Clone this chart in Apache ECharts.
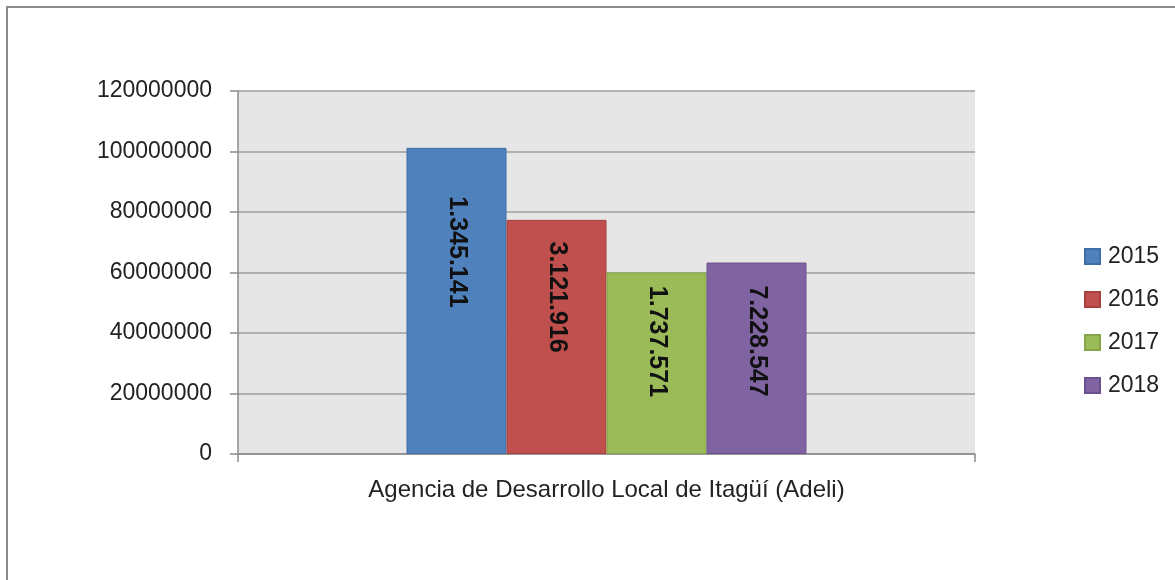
<!DOCTYPE html>
<html>
<head>
<meta charset="utf-8">
<script src="https://cdn.jsdelivr.net/npm/echarts@6/dist/echarts.min.js"></script>
<style>
  html, body { margin: 0; padding: 0; background: #fff; }
  #chart { width: 1175px; height: 580px; }
</style>
</head>
<body>
<div id="chart"></div>
<script>
// data
const categories = ['Agencia de Desarrollo Local de Itagüí (Adeli)']
const years = ['2015', '2016', '2017', '2018']
const values = [101200000, 77400000, 60000000, 63300000]
const labels = ['1.345.141', '3.121.916', '1.737.571', '7.228.547']
const yTicks = { min: 0, max: 120000000, interval: 20000000 }

const colors = ['#4F81BD', '#C0504D', '#9BBB59', '#8064A2']
const borders = ['#3F6FA8', '#A8403D', '#86A648', '#6A5290']
const labelY = ['34%', '33%', '38%', '41%']

const chart = echarts.init(document.getElementById('chart'))
const font = 'Liberation Sans'

chart.setOption({
  animation: false,
  textStyle: { fontFamily: font },
  graphic: [{
    type: 'rect', silent: true, z: -10,
    shape: { x: 7, y: 7, width: 1180, height: 600 },
    style: { fill: 'none', stroke: '#8C8C8C', lineWidth: 2 }
  }],
  legend: {
    orient: 'vertical', left: 1079, top: 240,
    itemWidth: 15, itemHeight: 15, itemGap: 20,
    icon: 'rect',
    textStyle: { color: '#222', fontSize: 23, fontFamily: font, lineHeight: 23, padding: [0, 0, 0, 3] },
    data: years
  },
  grid: { left: 238, right: 200, top: 91, bottom: 126, show: true, backgroundColor: '#E6E6E6', borderWidth: 0 },
  xAxis: {
    type: 'category', data: categories,
    axisLine: { lineStyle: { color: '#8C8C8C', width: 1.5 } },
    axisTick: { show: true, length: 8, lineStyle: { color: '#8C8C8C', width: 1.5 } },
    axisLabel: { color: '#222', fontSize: 24, margin: 24, fontFamily: font }
  },
  yAxis: {
    type: 'value', min: yTicks.min, max: yTicks.max, interval: yTicks.interval,
    axisLine: { show: true, lineStyle: { color: '#8C8C8C', width: 1.5 } },
    axisTick: { show: true, length: 8, lineStyle: { color: '#8C8C8C', width: 1.5 } },
    axisLabel: { color: '#222', fontSize: 23, margin: 26, fontFamily: font, formatter: v => String(v) },
    splitLine: { lineStyle: { color: '#9E9E9E', width: 1.5 } }
  },
  series: years.map((y, i) => ({
    name: y, type: 'bar',
    barWidth: 100, barGap: '0%',
    data: [values[i]],
    itemStyle: { color: colors[i], borderColor: borders[i], borderWidth: 1 },
    label: {
      show: true, position: ['50%', labelY[i]], rotate: -90,
      align: 'center', verticalAlign: 'middle',
      formatter: () => labels[i],
      color: '#111', fontSize: 25, fontWeight: 'bold', fontFamily: font
    }
  }))
})
</script>
</body>
</html>
